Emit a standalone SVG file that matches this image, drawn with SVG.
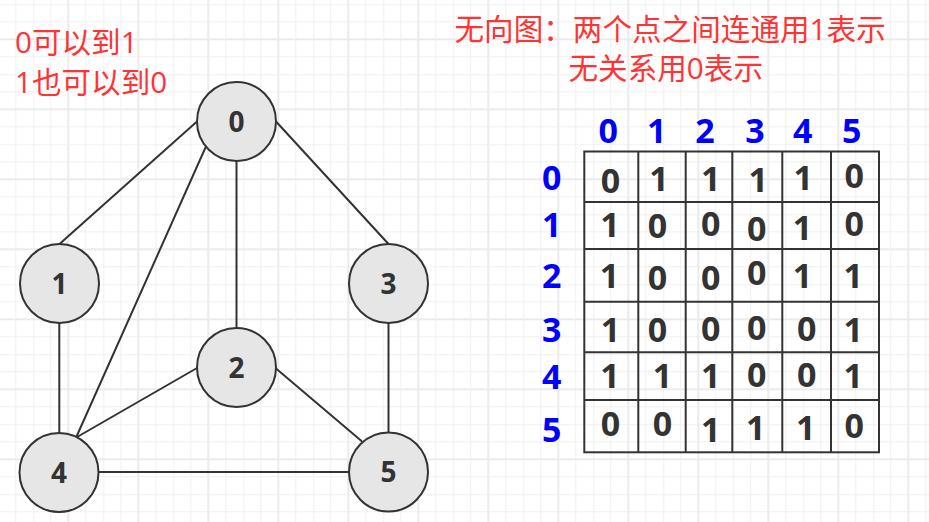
<svg xmlns="http://www.w3.org/2000/svg" width="929" height="522" viewBox="0 0 929 522">
<style>
.edge{stroke:#333333;stroke-width:2;fill:none;stroke-linecap:round}
.node circle{fill:#e6e6e6;stroke:#333333;stroke-width:2}
.node text{font-family:"Open Sans","Noto Sans CJK SC",sans-serif;font-weight:700;font-size:28px;fill:#333333;text-anchor:middle}
.red{font-family:"Open Sans","Noto Sans CJK SC",sans-serif;font-size:29.6px;fill:#ff3333}
.hdr{font-family:"Open Sans",sans-serif;font-weight:700;font-size:34px;fill:#0000ff;text-anchor:middle}
.cell{font-family:"Open Sans",sans-serif;font-weight:700;font-size:34px;fill:#333333;text-anchor:middle}
.tbl{stroke:#333333;stroke-width:2;fill:none}
</style>
<defs>
<pattern id="grid" patternUnits="userSpaceOnUse" x="33.3" y="4.3" width="70" height="70">
<rect x="0" y="0" width="1" height="70" fill="#f0f0f0"/>
<rect x="17" y="0" width="1" height="70" fill="#f0f0f0"/>
<rect x="52" y="0" width="1" height="70" fill="#f0f0f0"/>
<rect x="0" y="0" width="70" height="1" fill="#f0f0f0"/>
<rect x="0" y="17" width="70" height="1" fill="#f0f0f0"/>
<rect x="0" y="52" width="70" height="1" fill="#f0f0f0"/>
<rect x="34" y="0" width="2" height="70" fill="#ebebeb"/>
<rect x="0" y="34" width="70" height="2" fill="#ebebeb"/>
</pattern>
</defs>
<rect x="0" y="0" width="929" height="522" fill="#ffffff"/>
<rect x="0" y="0" width="929" height="522" fill="url(#grid)"/>

<g id="connectors">
<line class="edge" x1="197" y1="121.5" x2="59.5" y2="244"/>
<line class="edge" x1="276" y1="121.5" x2="388.5" y2="244"/>
<line class="edge" x1="236.5" y1="161" x2="236.5" y2="328"/>
<line class="edge" x1="205.5" y1="147.5" x2="77" y2="435.5"/>
<line class="edge" x1="59.3" y1="323" x2="59.3" y2="433"/>
<line class="edge" x1="388.5" y1="323" x2="388.5" y2="432.5"/>
<line class="edge" x1="197" y1="368" x2="78" y2="436.5"/>
<line class="edge" x1="276" y1="368.5" x2="361.5" y2="441"/>
<line class="edge" x1="98.5" y1="472" x2="349" y2="472"/>
</g>

<g id="node0" class="node"><circle cx="236.5" cy="121.5" r="39.5"/><text x="236.5" y="131.5">0</text></g>
<g id="node1" class="node"><circle cx="59.5" cy="283.5" r="39.5"/><text x="59.5" y="293.5">1</text></g>
<g id="node2" class="node"><circle cx="236.5" cy="367.5" r="39.5"/><text x="236.5" y="377.5">2</text></g>
<g id="node3" class="node"><circle cx="388.5" cy="283.5" r="39.5"/><text x="388.5" y="293.5">3</text></g>
<g id="node4" class="node"><circle cx="59" cy="472.5" r="39.5"/><text x="59" y="482.5">4</text></g>
<g id="node5" class="node"><circle cx="388.5" cy="472" r="39.5"/><text x="388.5" y="482">5</text></g>

<g id="note-left">
<text class="red" x="15" y="53.3">0可以到1</text>
<text class="red" x="15" y="93.3">1也可以到0</text>
</g>
<g id="note-title">
<text class="red" x="454.5" y="40">无向图：两个点之间连通用1表示</text>
<text class="red" x="568.5" y="79">无关系用0表示</text>
</g>

<g id="matrix">
<rect class="tbl" x="584.3" y="151.5" width="294.7" height="300.8"/>
<path class="tbl" d="M638.3 151.5V452.3M685.7 151.5V452.3M732.3 151.5V452.3M782.3 151.5V452.3M831 151.5V452.3M584.3 202H879M584.3 249H879M584.3 301.7H879M584.3 352.3H879M584.3 400H879"/>
<g id="col-headers">
<text class="hdr" x="608.3" y="142.5">0</text>
<text class="hdr" x="656.7" y="142.5">1</text>
<text class="hdr" x="705" y="142.5">2</text>
<text class="hdr" x="755" y="142.5">3</text>
<text class="hdr" x="802.7" y="142.5">4</text>
<text class="hdr" x="851.7" y="142.5">5</text>
</g>
<g id="row-headers">
<text class="hdr" x="551.7" y="190.3">0</text>
<text class="hdr" x="551.7" y="236.7">1</text>
<text class="hdr" x="551.7" y="288.3">2</text>
<text class="hdr" x="551.7" y="341.5">3</text>
<text class="hdr" x="551.7" y="389">4</text>
<text class="hdr" x="551.7" y="441.5">5</text>
</g>
<g id="cells">
<text class="cell" x="610.5" y="192.8">0</text>
<text class="cell" x="659" y="190.7">1</text>
<text class="cell" x="710.7" y="190.7">1</text>
<text class="cell" x="758.3" y="191.5">1</text>
<text class="cell" x="803.3" y="190">1</text>
<text class="cell" x="854.2" y="187.8">0</text>

<text class="cell" x="610" y="236.7">1</text>
<text class="cell" x="657.5" y="237.8">0</text>
<text class="cell" x="710.8" y="236.2">0</text>
<text class="cell" x="756.8" y="241.2">0</text>
<text class="cell" x="802.5" y="240">1</text>
<text class="cell" x="854.2" y="236.2">0</text>

<text class="cell" x="609.5" y="288.3">1</text>
<text class="cell" x="657.5" y="289.6">0</text>
<text class="cell" x="710.8" y="289.6">0</text>
<text class="cell" x="756.8" y="284.6">0</text>
<text class="cell" x="802.5" y="288.3">1</text>
<text class="cell" x="853.3" y="288.3">1</text>

<text class="cell" x="610.5" y="341.7">1</text>
<text class="cell" x="657.5" y="341.8">0</text>
<text class="cell" x="710.8" y="341.2">0</text>
<text class="cell" x="756.8" y="340.2">0</text>
<text class="cell" x="806.7" y="341.2">0</text>
<text class="cell" x="853.3" y="341.7">1</text>

<text class="cell" x="610" y="388.3">1</text>
<text class="cell" x="662.5" y="388.3">1</text>
<text class="cell" x="710.8" y="388.3">1</text>
<text class="cell" x="756.8" y="386.8">0</text>
<text class="cell" x="806.7" y="386.8">0</text>
<text class="cell" x="853.3" y="388.3">1</text>

<text class="cell" x="610.5" y="436.2">0</text>
<text class="cell" x="662.5" y="436.2">0</text>
<text class="cell" x="710.8" y="441.7">1</text>
<text class="cell" x="755.8" y="440">1</text>
<text class="cell" x="805.8" y="440">1</text>
<text class="cell" x="854.2" y="437.8">0</text>
</g>
</g>
</svg>
